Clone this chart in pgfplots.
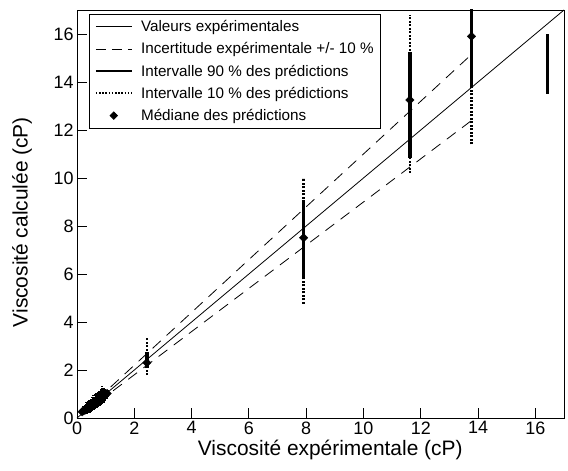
\documentclass[border=0pt]{standalone}
\usepackage{fontspec}
\setmainfont{Liberation Sans}
\usepackage{pgfplots}
\pgfplotsset{compat=1.18}
\pgfplotsset{
  mylegline/.style={legend image code/.code={\draw[##1] (0bp,0bp) -- (36bp,0bp);}},
  mylegmark/.style={legend image code/.code={\draw[##1] plot coordinates {(18bp,0bp)};}},
}
\begin{document}
\begin{tikzpicture}
\begin{axis}[
  scale only axis, width=487bp, height=408bp,
  xmin=0, xmax=17, ymin=0, ymax=17,
  xtick={0,2,...,16}, ytick={0,2,...,16},
  tick align=inside, tick pos=left,
  major tick length=10bp,
  axis line style={line width=0.8bp},
  every tick/.style={line width=0.8bp, black},
  /pgf/number format/assume math mode=true,
  tick label style={font=\fontsize{18}{20}\selectfont},
  xlabel={Viscosité expérimentale (cP)},
  ylabel={Viscosité calculée (cP)},
  x label style={at={(axis description cs:0.52,-0.093)}, anchor=base, font=\fontsize{21}{24}\selectfont},
  y label style={at={(axis description cs:-0.113,0.48)}, rotate=0, anchor=center, font=\fontsize{21}{24}\selectfont},
  legend style={at={(0.025,0.99)}, anchor=north west, draw=black, line width=0.8bp,
    font=\fontsize{15.3}{18}\selectfont, cells={anchor=west}, row sep=5.5bp, column sep=6bp,
    inner xsep=5bp, inner ysep=4bp},
]
% legend images
\addlegendimage{black, line width=0.8bp, mylegline}
\addlegendentry{Valeurs expérimentales}
\addlegendimage{black, line width=0.8bp, dash pattern=on 10bp off 6bp, mylegline}
\addlegendentry{Incertitude expérimentale +/- 10 \%}
\addlegendimage{black, line width=2.5bp, mylegline}
\addlegendentry{Intervalle 90 \% des prédictions}
\addlegendimage{black, line width=2bp, dash pattern=on 1.6bp off 1.6bp, mylegline}
\addlegendentry{Intervalle 10 \% des prédictions}
\addlegendimage{black, only marks, mark=square*, mark size=2.6bp, mark options={rotate=45, solid}, mylegmark}
\addlegendentry{Médiane des prédictions}

% reference lines
\addplot[black, line width=0.8bp, forget plot] coordinates {(0,0) (17,17)};
\addplot[black, line width=0.8bp, dash pattern=on 11bp off 8bp, forget plot] coordinates {(0.2,0.22) (13.7,15.07)};
\addplot[black, line width=0.8bp, dash pattern=on 11bp off 8bp, forget plot] coordinates {(0.2,0.18) (13.8,12.42)};

% 10 % intervals (dotted)
\addplot[black, line width=2.5bp, dash pattern=on 2bp off 1.5bp, unbounded coords=jump, forget plot] coordinates {
(2.44,1.79) (2.44,3.37) (nan,nan)
(7.91,4.75) (7.91,10.0) (nan,nan)
(11.62,10.2) (11.62,16.8) (nan,nan)
(13.77,11.4) (13.77,18.0) (nan,nan)
(0.18,0.16) (0.18,0.42) (nan,nan)
(0.23,0.17) (0.23,0.50) (nan,nan)
(0.28,0.18) (0.28,0.58) (nan,nan)
(0.33,0.18) (0.33,0.66) (nan,nan)
(0.38,0.20) (0.38,0.72) (nan,nan)
(0.43,0.22) (0.43,0.78) (nan,nan)
(0.48,0.25) (0.48,0.82) (nan,nan)
(0.53,0.28) (0.53,0.88) (nan,nan)
(0.58,0.32) (0.58,0.94) (nan,nan)
(0.63,0.36) (0.63,0.98) (nan,nan)
(0.68,0.40) (0.68,1.04) (nan,nan)
(0.73,0.44) (0.73,1.08) (nan,nan)
(0.78,0.50) (0.78,1.14) (nan,nan)
(0.83,0.54) (0.83,1.24) (nan,nan)
(0.88,0.58) (0.88,1.32) (nan,nan)
(0.93,0.64) (0.93,1.24) (nan,nan)
(0.98,0.72) (0.98,1.20) (nan,nan)
(1.05,0.80) (1.05,1.22)
};

% 90 % intervals (solid thick)
\addplot[black, line width=3.5bp, unbounded coords=jump, forget plot] coordinates {
(2.44,2.08) (2.44,2.75) (nan,nan)
(7.91,5.79) (7.91,9.1) (nan,nan)
(11.62,10.83) (11.62,15.25) (nan,nan)
(13.77,13.8) (13.77,18.0) (nan,nan)
(16.42,13.5) (16.42,16.0) (nan,nan)
(0.18,0.20) (0.18,0.36) (nan,nan)
(0.23,0.20) (0.23,0.42) (nan,nan)
(0.28,0.21) (0.28,0.50) (nan,nan)
(0.33,0.22) (0.33,0.57) (nan,nan)
(0.38,0.25) (0.38,0.62) (nan,nan)
(0.43,0.28) (0.43,0.68) (nan,nan)
(0.48,0.31) (0.48,0.72) (nan,nan)
(0.53,0.34) (0.53,0.78) (nan,nan)
(0.58,0.38) (0.58,0.84) (nan,nan)
(0.63,0.42) (0.63,0.88) (nan,nan)
(0.68,0.46) (0.68,0.94) (nan,nan)
(0.73,0.50) (0.73,0.98) (nan,nan)
(0.78,0.56) (0.78,1.04) (nan,nan)
(0.83,0.60) (0.83,1.14) (nan,nan)
(0.88,0.64) (0.88,1.22) (nan,nan)
(0.93,0.70) (0.93,1.14) (nan,nan)
(0.98,0.78) (0.98,1.12) (nan,nan)
(1.05,0.86) (1.05,1.16)
};

% medians
\addplot[black, only marks, mark=square*, mark size=3bp, mark options={rotate=45, solid}, forget plot] coordinates {
(2.44,2.30) (7.91,7.51) (11.62,13.25) (13.77,15.9)
(0.18,0.26) (0.23,0.30) (0.28,0.33) (0.33,0.38) (0.38,0.42) (0.43,0.47)
(0.48,0.50) (0.53,0.55) (0.58,0.60) (0.63,0.64) (0.68,0.69) (0.73,0.74)
(0.78,0.79) (0.83,0.88) (0.88,0.94) (0.93,0.92) (0.98,0.96) (1.05,1.02)
};
\end{axis}
\pgfresetboundingbox
\path (current axis.south west) +(-77bp,-53bp);
\path (current axis.north east) +(4bp,10bp);
\end{tikzpicture}
\end{document}
